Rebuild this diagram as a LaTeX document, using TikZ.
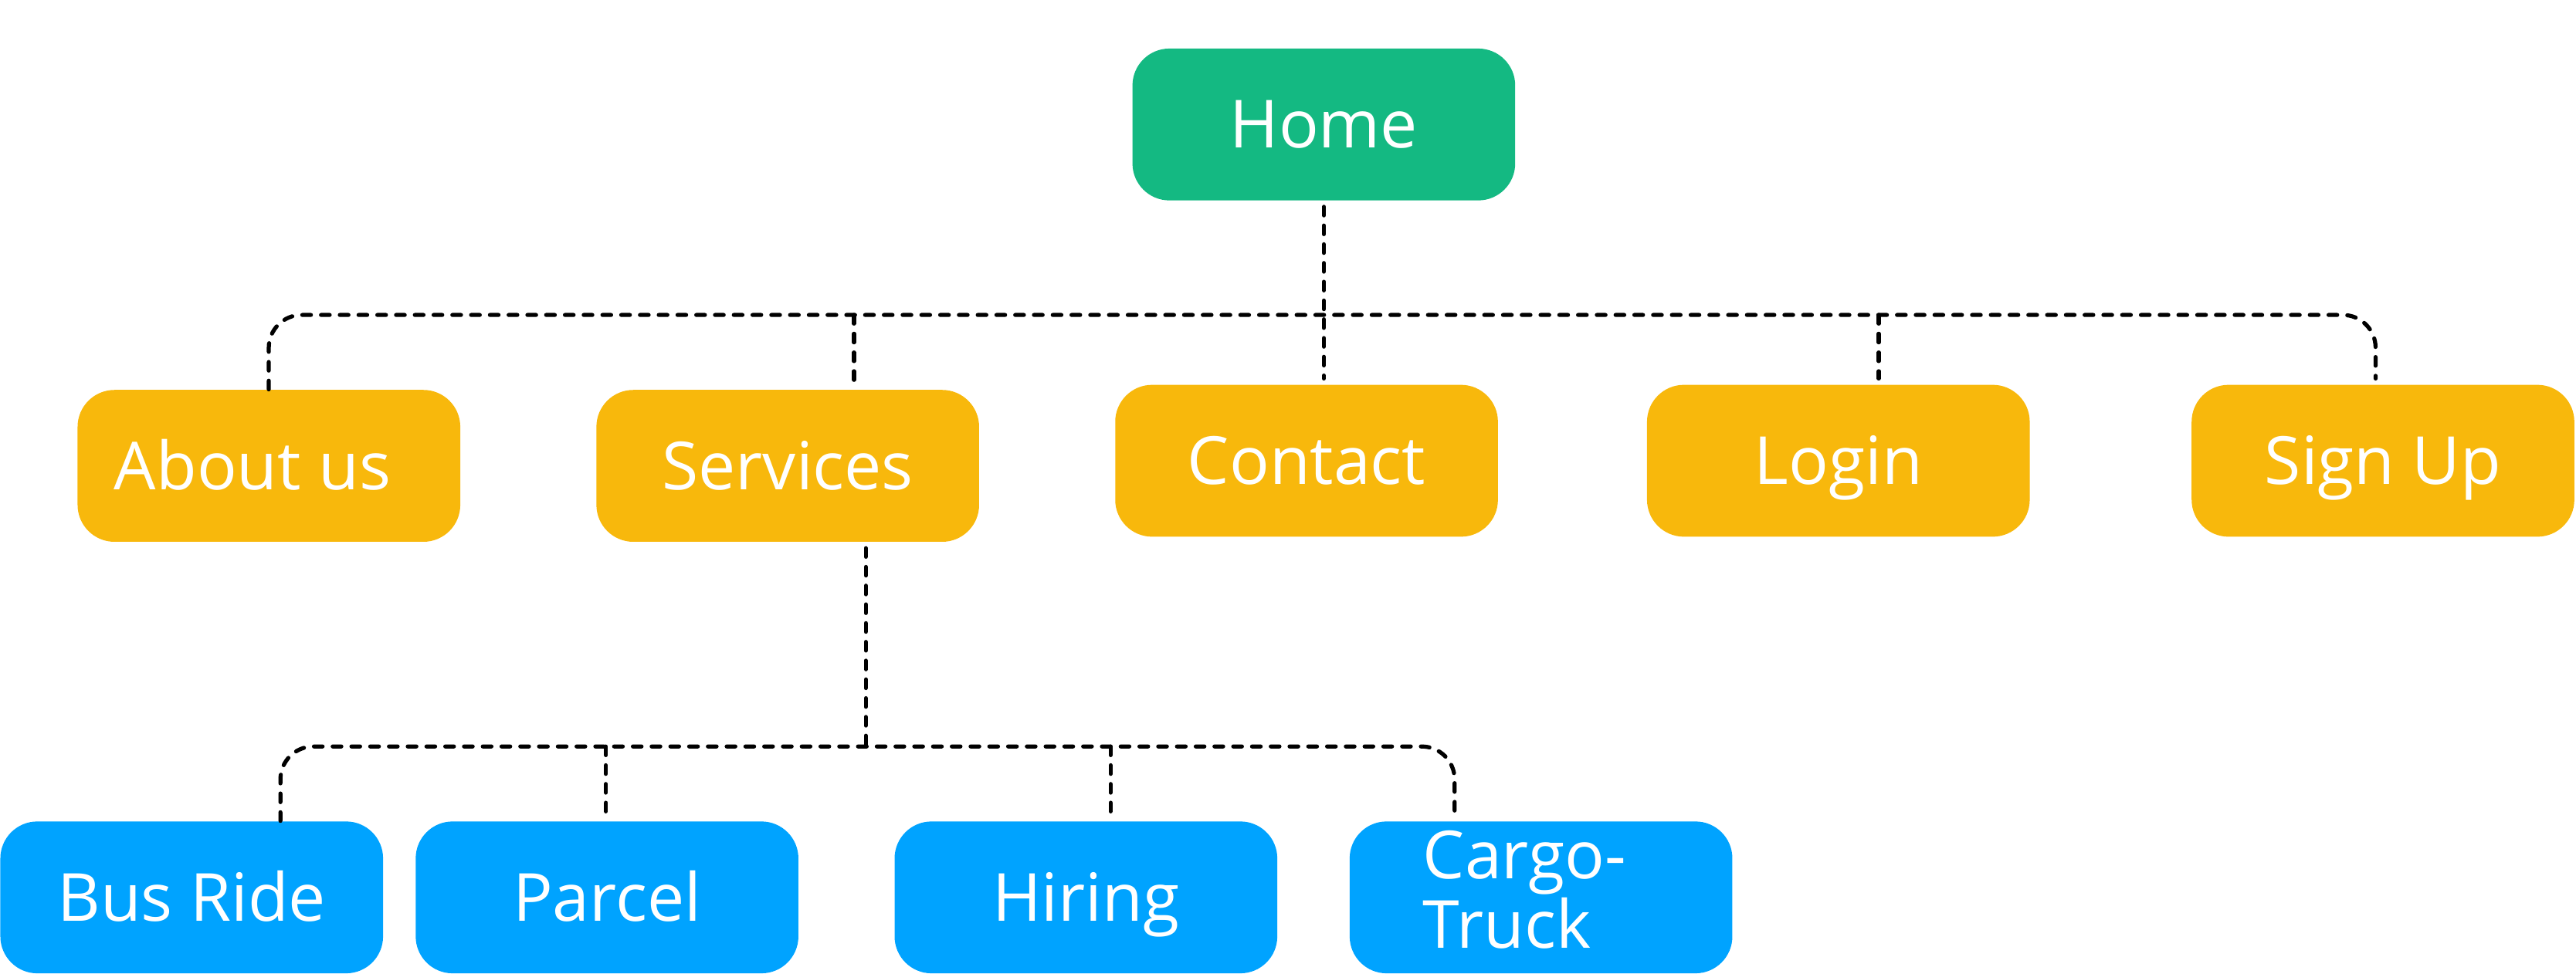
\documentclass[tikz,border=0pt]{standalone}
\usepackage{fontspec}
\setmainfont{Open Sans}
\usepackage{tikz}

\definecolor{homegreen}{RGB}{20,185,130}
\definecolor{pagegold}{RGB}{248,184,12}
\definecolor{subblue}{RGB}{0,163,255}

\tikzset{
  box/.style={rounded corners=0.45cm, text=white, inner sep=0pt,
    font=\fontsize{23}{24}\selectfont, text height=16.4pt, text depth=0pt,
    minimum width=4.66cm, minimum height=1.85cm},
  homebox/.style={box, fill=homegreen},
  pagebox/.style={box, fill=pagegold},
  subbox/.style={box, fill=subblue},
  link/.style={line width=1.4pt, dash pattern=on 3pt off 3.5pt, line cap=round},
  gap/.style={shorten >=2pt}
}

\begin{document}
\begin{tikzpicture}[x=0.02cm, y=-0.02cm]
       \useasboundingbox (0,0) rectangle (1568,593);

       \node(Home)[homebox] at (805.8,75.8) {Home};

       \node(About)[pagebox] at (163.7,283.7) {About us\hspace*{0.4cm}};
       \node(Services)[pagebox] at (479.5,283.7) {Services};
       \node(Contact)[pagebox] at (795.3,280.6) {Contact};
       \node(Login)[pagebox] at (1119,280.6) {Login};
       \node(SignUp)[pagebox] at (1450.5,280.6) {Sign Up};

       \node(BusRide)[subbox] at (116.7,546.5) {Bus Ride};
       \node(Parcel)[subbox] at (369.5,546.5) {Parcel};
       \node(Hiring)[subbox] at (661,546.5) {Hiring};
       \node(Cargo)[subbox, align=left, text height=40.4pt, text depth=5.4pt] at (938,546.5) {Cargo-\hspace*{0.4cm}\\Truck};

       \coordinate(T1) at (163.6,191.8);
       \coordinate(T2) at (519.8,191.8);
       \coordinate(T4) at (1143.6,191.8);
       \coordinate(T5) at (1446,191.8);

       \draw[link, shorten <=2pt, gap] (Home) -- (Home |- Contact.north);
       \draw[link, gap, rounded corners=0.4cm] (T1 |- About.north) |- (T5) -- (T5 |- SignUp.north);
       \draw[link, gap] (T2) -- (T2 |- Services.north);
       \draw[link, gap] (T4) -- (T4 |- Login.north);

       \coordinate(S0) at (527,454.6);
       \coordinate(S1) at (170.7,454.6);
       \coordinate(S2) at (368.8,454.6);
       \coordinate(S3) at (676,454.6);
       \coordinate(S4) at (885.4,454.6);

       \draw[link, shorten <=2pt] (S0 |- Services.south) -- (S0);
       \draw[link, gap, rounded corners=0.4cm] (S1 |- BusRide.north) |- (S4) -- (S4 |- Cargo.north);
       \draw[link, gap] (S2) -- (S2 |- Parcel.north);
       \draw[link, gap] (S3) -- (S3 |- Hiring.north);
\end{tikzpicture}
\end{document}
